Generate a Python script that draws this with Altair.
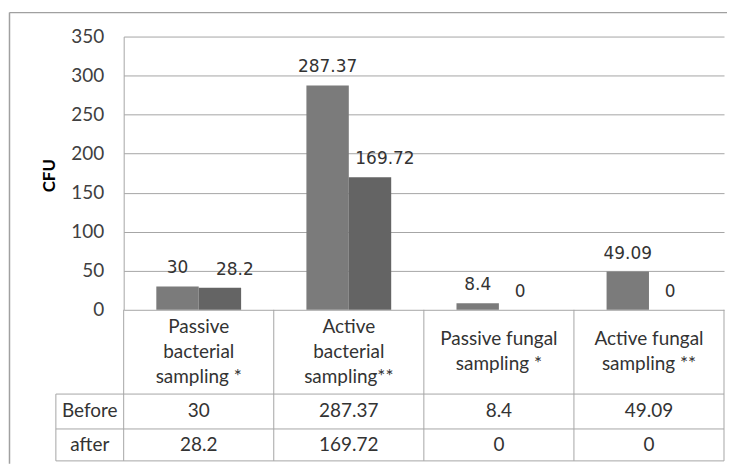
import altair as alt
import pandas as pd

# ---- data ----
categories = [
    "Passive\nbacterial\nsampling *",
    "Active\nbacterial\nsampling**",
    "Passive fungal\nsampling *",
    "Active fungal\nsampling **",
]
series = ["Before", "after"]
before = [30, 287.37, 8.4, 49.09]
after = [28.2, 169.72, 0, 0]
y_ticks = [0, 50, 100, 150, 200, 250, 300, 350]

rows = []
for c, b, a in zip(categories, before, after):
    rows.append({"cat": c, "series": series[0], "value": b, "label": f"{b:g}"})
    rows.append({"cat": c, "series": series[1], "value": a, "label": f"{a:g}"})
df = pd.DataFrame(rows)
cat_df = pd.DataFrame({"cat": categories})
ser_df = pd.DataFrame({"series": series})
one = alt.Data(values=[{}])

# ---- layout (pixels) ----
W, H = 602, 274
HDR, R1, R2 = 84.5, 35, 32
BOTTOM = H + HDR + R1 + R2
ROWX = -68
BX, BY = -114.5, -24
LH = 25

FONT = "Lato"
TXT = "#333333"
LINE = "#a6a6a6"

x_enc = alt.X("cat:N", sort=categories, axis=None,
              scale=alt.Scale(paddingInner=0, paddingOuter=0))
xo_enc = alt.XOffset("series:N", sort=series,
                     scale=alt.Scale(paddingInner=0, paddingOuter=0.77))
y_enc = alt.Y("value:Q",
              scale=alt.Scale(domain=[0, 350], nice=False),
              axis=alt.Axis(values=y_ticks, grid=True, ticks=False, labelPadding=20,
                            labelOverlap=False,
                            labelFont=FONT, labelFontSize=19, labelColor="#404040",
                            domainColor=LINE, gridColor=LINE,
                            title="CFU", titleFont=FONT, titleFontSize=17,
                            titleFontWeight="bold", titleColor="#000000",
                            titleAngle=270, titleX=-74, titleY=139,
                            titleAlign="center", titleBaseline="middle"))

bars = alt.Chart(df).mark_bar().encode(
    x=x_enc,
    xOffset=xo_enc,
    y=y_enc,
    color=alt.Color("series:N", sort=series, legend=None,
                    scale=alt.Scale(domain=series, range=["#7b7b7b", "#646464"])),
)

lab_common = dict(font="DejaVu Sans", fontSize=17, color=TXT, baseline="alphabetic", dy=-13)
labels_a = alt.Chart(df).transform_filter(
    "datum.series == 'Before' || datum.value == 0"
).mark_text(**lab_common).encode(x=x_enc, xOffset=xo_enc, y=y_enc, text="label:N")
labels_b = alt.Chart(df).transform_filter(
    "datum.series == 'after' && datum.value > 0"
).mark_text(dx=15, **lab_common).encode(x=x_enc, xOffset=xo_enc, y=y_enc, text="label:N")

tx_center = alt.X("cat:N", sort=categories, bandPosition=0.5, axis=None)
tcommon = dict(font=FONT, fontSize=19, color=TXT, baseline="middle", align="center")

hdr_base = alt.Chart(cat_df).transform_calculate(
    nlines="length(split(datum.cat, '\\n'))"
)
header3 = hdr_base.transform_filter("datum.nlines == 3").mark_text(
    lineBreak="\n", lineHeight=LH, dy=-LH, **tcommon
).encode(x=tx_center, y=alt.value(H + HDR / 2), text="cat:N")
header2 = hdr_base.transform_filter("datum.nlines == 2").mark_text(
    lineBreak="\n", lineHeight=LH, dy=-LH / 2, **tcommon
).encode(x=tx_center, y=alt.value(H + HDR / 2), text="cat:N")

row_before = alt.Chart(df).transform_filter("datum.series == 'Before'").mark_text(**tcommon).encode(
    x=tx_center, y=alt.value(H + HDR + R1 / 2), text="label:N")
row_after = alt.Chart(df).transform_filter("datum.series == 'after'").mark_text(**tcommon).encode(
    x=tx_center, y=alt.value(H + HDR + R1 + R2 / 2), text="label:N")
rl_before = alt.Chart(ser_df).transform_filter("datum.series == 'Before'").mark_text(**tcommon).encode(
    x=alt.value(ROWX / 2), y=alt.value(H + HDR + R1 / 2), text="series:N")
rl_after = alt.Chart(ser_df).transform_filter("datum.series == 'after'").mark_text(**tcommon).encode(
    x=alt.value(ROWX / 2), y=alt.value(H + HDR + R1 + R2 / 2), text="series:N")

vlines = alt.Chart(cat_df).mark_rule(color=LINE, strokeWidth=1).encode(
    x=alt.X("cat:N", sort=categories, bandPosition=0, axis=None),
    y=alt.value(H), y2=alt.value(BOTTOM))
rule = lambda **enc: alt.Chart(one).mark_rule(color=LINE, strokeWidth=1).encode(**enc)
right_v = rule(x=alt.value(W), y=alt.value(H), y2=alt.value(BOTTOM))
left_v = rule(x=alt.value(ROWX), y=alt.value(H + HDR), y2=alt.value(BOTTOM))
h1 = rule(x=alt.value(ROWX), x2=alt.value(W), y=alt.value(H + HDR))
h2 = rule(x=alt.value(ROWX), x2=alt.value(W), y=alt.value(H + HDR + R1))
h3 = rule(x=alt.value(ROWX), x2=alt.value(W), y=alt.value(BOTTOM))

border_l = alt.Chart(one).mark_rule(color="#a0a0a0", strokeWidth=1.5).encode(
    x=alt.value(BX), y=alt.value(BY), y2=alt.value(BOTTOM + 3))
border_t = alt.Chart(one).mark_rule(color="#a0a0a0", strokeWidth=1.5).encode(
    x=alt.value(BX), x2=alt.value(W + 3), y=alt.value(BY))

chart = alt.layer(
    bars, labels_a, labels_b, header3, header2, row_before, row_after, rl_before, rl_after,
    vlines, right_v, left_v, h1, h2, h3, border_l, border_t,
).properties(
    width=W, height=H,
    padding={"left": 0, "top": 3, "right": 0, "bottom": 0},
    background="white",
).configure_view(stroke=None)

chart.save("out.html", embed_options={"renderer": "svg", "actions": False})
